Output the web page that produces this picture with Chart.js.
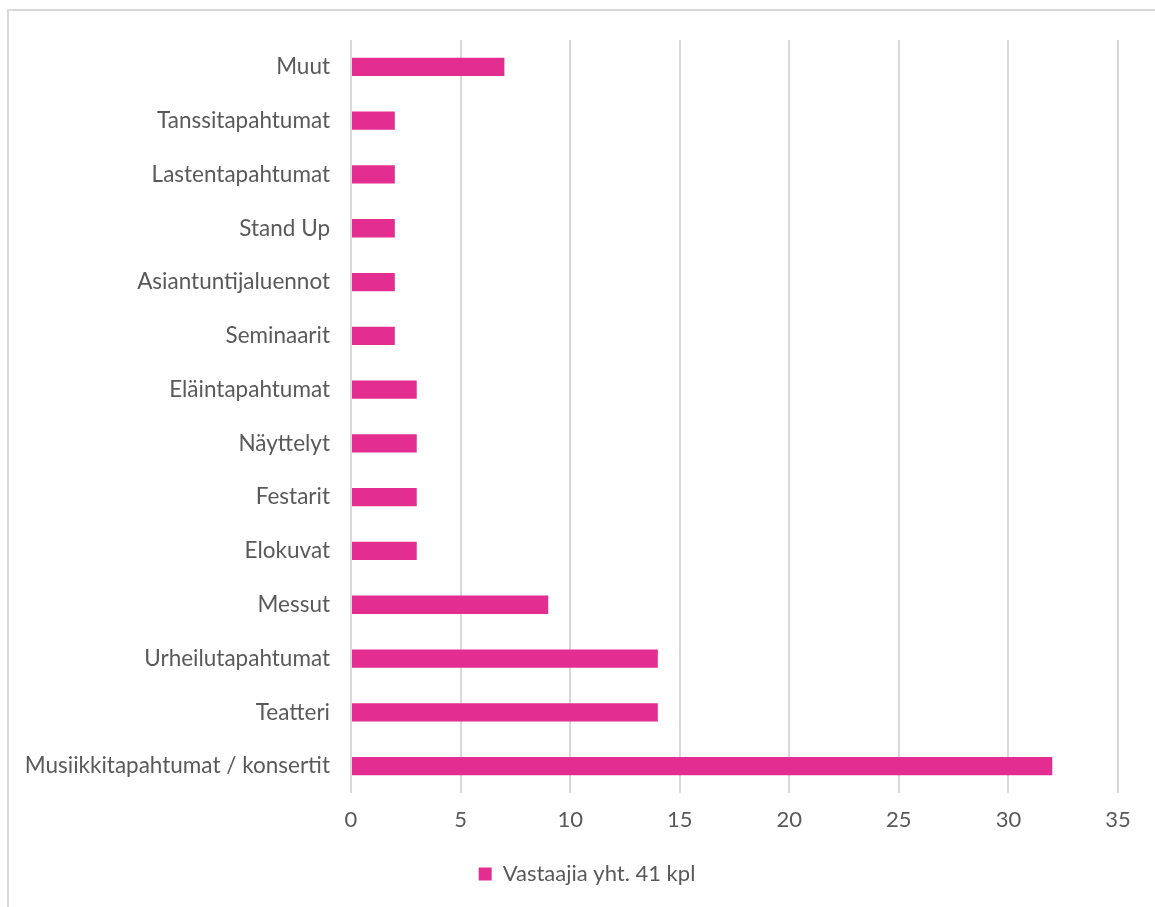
<!DOCTYPE html>
<html>
<head>
<meta charset="utf-8">
<script src="https://cdn.jsdelivr.net/npm/chart.js@4/dist/chart.umd.min.js"></script>
<style>
  html, body { margin: 0; padding: 0; background: #fff; }
  #frame { position: absolute; left: 7px; top: 9px; width: 1160px; height: 910px; border: 2px solid #d9d9d9; box-sizing: border-box; }
  #wrap { position: absolute; left: 0; top: 0; width: 1155px; height: 907px; }
</style>
</head>
<body>
<div id="frame"></div>
<div id="wrap"><canvas id="chart" width="1155" height="907"></canvas></div>
<script>
// categories, top to bottom as shown
const categories = [
  'Muut', 'Tanssitapahtumat', 'Lastentapahtumat', 'Stand Up', 'Asiantuntijaluennot',
  'Seminaarit', 'Eläintapahtumat', 'Näyttelyt', 'Festarit', 'Elokuvat',
  'Messut', 'Urheilutapahtumat', 'Teatteri', 'Musiikkitapahtumat / konsertit'
];
const values = [7, 2, 2, 2, 2, 2, 3, 3, 3, 3, 9, 14, 14, 32];
const seriesLabel = 'Vastaajia yht. 41 kpl';
const xTicks = [0, 5, 10, 15, 20, 25, 30, 35];

const pink = '#e32d91';
const textColor = '#595959';
const fontFamily = 'Lato, "Open Sans", sans-serif';

// legend is centred on the whole frame, not on the chart area
const legendShift = {
  id: 'legendShift',
  afterLayout(chart) {
    chart.legend.left += 28;
    chart.legend.right += 28;
  }
};

const ctx = document.getElementById('chart').getContext('2d');
new Chart(ctx, {
  type: 'bar',
  data: {
    labels: categories,
    datasets: [{
      label: seriesLabel,
      data: values,
      backgroundColor: pink,
      borderWidth: 0,
      categoryPercentage: 1,
      barPercentage: 0.34
    }]
  },
  options: {
    indexAxis: 'y',
    responsive: false,
    animation: false,
    layout: { padding: { top: 40, right: 37, left: 0, bottom: 12 } },
    plugins: {
      tooltip: { enabled: false },
      legend: {
        position: 'bottom',
        labels: {
          color: textColor,
          font: { family: fontFamily, size: 22 },
          boxWidth: 13,
          boxHeight: 13,
          padding: 10
        }
      }
    },
    scales: {
      x: {
        min: 0,
        max: 35,
        afterBuildTicks: function (scale) {
          scale.ticks = xTicks.map(v => ({ value: v }));
        },
        afterFit: function (scale) { scale.height = 60; },
        grid: { color: '#d9d9d9', lineWidth: 2, drawTicks: false },
        border: { display: false },
        ticks: { color: textColor, font: { family: fontFamily, size: 22 }, padding: 14 }
      },
      y: {
        afterFit: function (scale) { scale.width = 351; },
        grid: { display: false, drawTicks: false },
        border: { display: false },
        ticks: { color: textColor, font: { family: fontFamily, size: 22.5 }, padding: 21 }
      }
    }
  },
  plugins: [legendShift]
});
</script>
</body>
</html>
